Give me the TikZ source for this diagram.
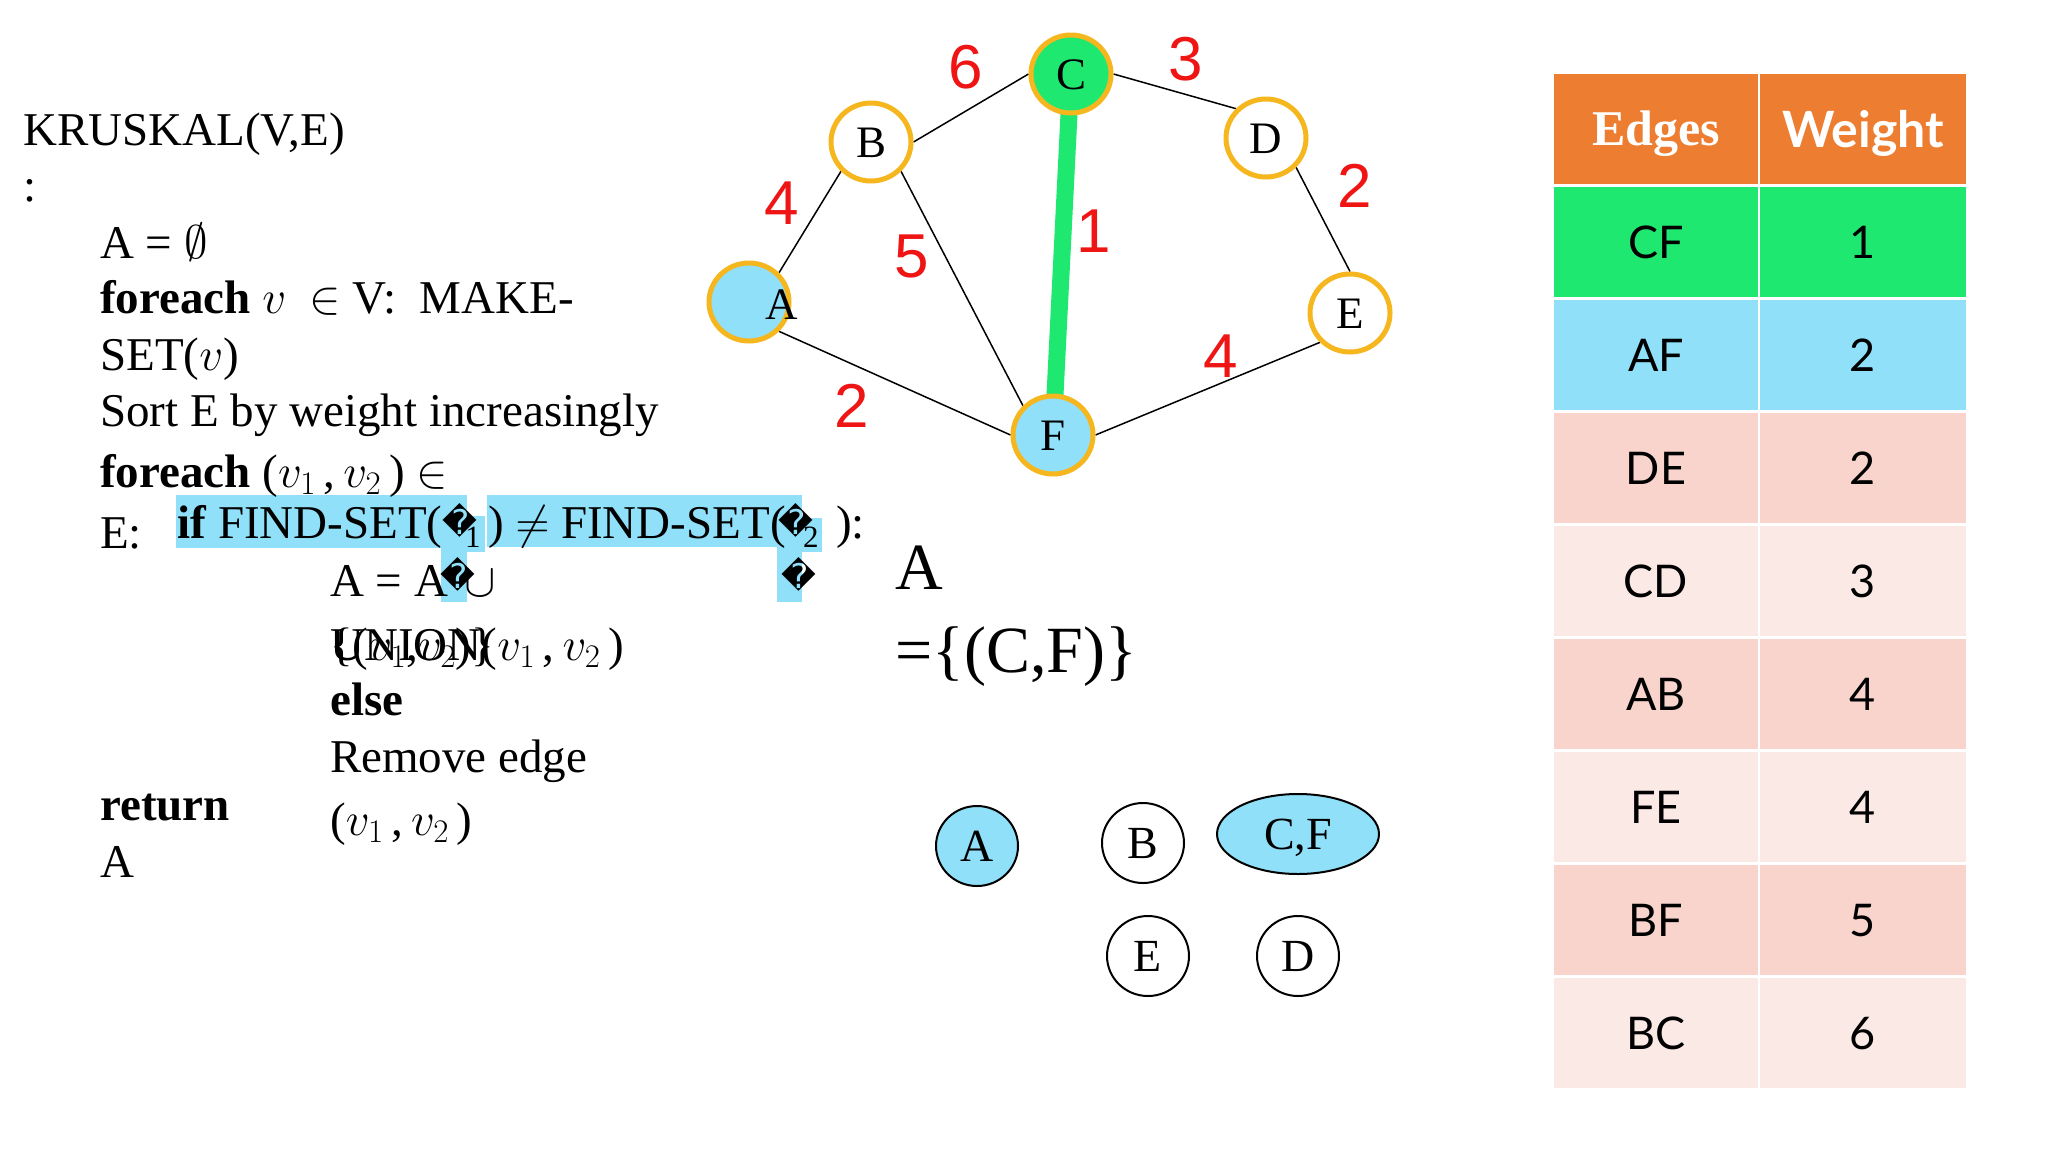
\RequirePackage{fix-cm}
\documentclass[tikz,border=0pt]{standalone}
\usepackage{fontspec}
\setmainfont{Liberation Serif}
\newfontfamily\arialf{Liberation Sans}
\newfontfamily\latof{Lato}
\newfontfamily\dejavuf{DejaVu Sans}
\usetikzlibrary{shapes.geometric}
\newcommand\setfs[1]{\fontsize{#1}{#1}\selectfont}
\definecolor{hlblue}{HTML}{90E0FA}
\definecolor{kgreen}{HTML}{1EE870}
\definecolor{kgold}{HTML}{F5B61E}
\definecolor{wred}{HTML}{F01515}
\definecolor{hdr}{HTML}{ED7D31}
\definecolor{pinkA}{HTML}{F8D4CD}
\definecolor{pinkB}{HTML}{FBE9E6}
\pgfdeclarelayer{bg}
\pgfdeclarelayer{paper}
\pgfsetlayers{paper,bg,main}
\tikzset{
  code/.style={anchor=base west, inner sep=0pt, font=\setfs{47}},
  repl/.style={inner sep=0pt, font=\dejavuf\setfs{34}},
  subs/.style={anchor=base west, inner sep=0pt, font=\setfs{31}},
  gnode/.style={ellipse, draw=kgold, line width=5pt, minimum width=80pt, minimum height=78pt, inner sep=0pt, font=\setfs{45}, text height=30pt, text depth=0pt},
  glabel/.style={inner sep=0pt, font=\setfs{45}, text height=30pt, text depth=0pt},
  edge/.style={line width=1.5pt, black},
  weight/.style={inner sep=0pt, text=wred, font=\arialf\setfs{62}, text height=44pt, text depth=0pt},
  snode/.style={ellipse, draw=black, line width=2pt, minimum width=82pt, minimum height=80pt, inner sep=0pt, font=\setfs{46}, text height=30.5pt, text depth=0pt},
  cell/.style={rectangle, inner sep=0pt, minimum height=110pt, text height=32.5pt, text depth=0pt, font=\latof\setfs{45}},
  colA/.style={cell, minimum width=204pt},
  colB/.style={cell, minimum width=206pt},
  hl/.style={fill=hlblue}
}
\begin{document}
\begin{tikzpicture}[x=1pt,y=-1pt]
\useasboundingbox (0,0) rectangle (2048,1152);
\begin{pgfonlayer}{paper}
\fill[white] (0,0) rectangle (2048,1152);
\end{pgfonlayer}

% ---------- highlights ----------
\fill[hl] (176,495) rectangle (467,548);
\fill[hl] (441,548) rectangle (467,602);
\fill[hl] (467,516) rectangle (485,552);
\fill[hl] (487,495) rectangle (802,547);
\fill[hl] (777,547) rectangle (802,602);
\fill[hl] (802,518) rectangle (822,552);

% ---------- pseudocode ----------
\node[code] (l1) at (23,145) {KRUSKAL(V,E)};
\node[code] (l2) at (23,201) {:};
\node[code] (l3) at (100,258) {A = $\emptyset$};
\node[code] (l4) at (100,313) {\textbf{foreach} $v$\ \ $\in$\ V:\ \ MAKE-};
\node[code] (l5) at (100,370) {SET($v$)};
\node[code] (l6) at (100,426) {Sort E by weight increasingly};
\node[code] (l7) at (100,487) {\textbf{foreach} ($v_1$\,,\,$v_2$\,)\ $\in$};
\node[code] (l8) at (100,548) {E:};
\node[code] (if1) at (177,538) {\textbf{if} FIND-SET(};
\node[repl] (r1) at (460,520) {\char"FFFD};
\node[subs] (s1) at (465,547) {1};
\node[code] (neq) at (488,538) {) $\neq$ FIND-SET(};
\node[repl] (r2) at (796,520) {\char"FFFD};
\node[subs] (s2) at (803,547) {2};
\node[code] (cl) at (836,538) {):};
\node[code] (aa) at (330,596) {A = A};
\node[code] (cup) at (464,596) {$\cup$};
\node[repl] (r3) at (458,574) {\char"FFFD};
\node[repl] (r4) at (799,574) {\char"FFFD};
\node[code] (un) at (330,660) {UNION($v_1$\,,\,$v_2$\,)};
\node[code] (br) at (330,660) {\{($v_1$,$v_2$)\}};
\node[code] (el) at (330,715) {\textbf{else}};
\node[code] (rm) at (330,772) {Remove edge};
\node[code] (rt) at (100,820) {\textbf{return}};
\node[code] (pv) at (330,835) {($v_1$\,,\,$v_2$\,)};
\node[code] (ra) at (100,877) {A};

% ---------- graph ----------
\node[gnode, fill=kgreen] (C) at (1071,74) {C};
\node[gnode, fill=white] (B) at (871,142) {B};
\node[gnode, fill=white] (D) at (1266,138) {D};
\node[gnode, fill=hlblue] (A) at (749,302) {};
\node[glabel] (Alab) at (782,304) {A};
\node[gnode, fill=white] (E) at (1350,313) {E};
\node[gnode, fill=hlblue] (F) at (1053,435) {F};
\begin{pgfonlayer}{bg}
\draw[edge] (A.north east) -- (B.south west);
\draw[edge] (B.east) -- (C.west);
\draw[edge] (C.east) -- (D.north west);
\draw[edge] (D.south east) -- (E.north);
\draw[edge] (E.south west) -- (F.east);
\draw[edge] (F.west) -- (A.south east);
\draw[edge] (B.south east) -- (F.north west);
\draw[line width=17pt, kgreen] (C.center) -- (F.center);
\end{pgfonlayer}
\node[weight] (w6) at (966,66) {6};
\node[weight] (w3) at (1186,58) {3};
\node[weight] (w4a) at (782,202) {4};
\node[weight] (w5) at (912,255) {5};
\node[weight] (w1) at (1094,230) {1};
\node[weight] (w2a) at (1355,185) {2};
\node[weight] (w4b) at (1221,355) {4};
\node[weight] (w2b) at (852,405) {2};

% ---------- result set ----------
\node[code, font=\setfs{66}] (As) at (895,589) {A};
\node[code, font=\setfs{66}] (Av) at (895,672) {=\{(C,F)\}};

% ---------- disjoint sets ----------
\node[snode, fill=hlblue] (sA) at (977,846) {A};
\node[snode, fill=white] (sB) at (1143,843) {B};
\node[snode, fill=hlblue, minimum width=162pt] (sCF) at (1298,834) {C,F};
\node[snode, fill=white] (sE) at (1148,956) {E};
\node[snode, fill=white] (sD) at (1298,956) {D};

% ---------- table ----------
\node[colA, fill=hdr, text=white, font=\setfs{50}\bfseries, text height=33pt] (h1) at (1656,129) {Edges};
\node[colB, fill=hdr, text=white, font=\latof\setfs{50}\bfseries, text height=36pt] (h2) at (1863,129) {Weight};
\node[colA, fill=kgreen] (e1) at (1656,242) {CF};
\node[colB, fill=kgreen] (v1) at (1863,242) {1};
\node[colA, fill=hlblue] (e2) at (1656,355) {AF};
\node[colB, fill=hlblue] (v2) at (1863,355) {2};
\node[colA, fill=pinkA] (e3) at (1656,468) {DE};
\node[colB, fill=pinkA] (v3) at (1863,468) {2};
\node[colA, fill=pinkB] (e4) at (1656,581) {CD};
\node[colB, fill=pinkB] (v4) at (1863,581) {3};
\node[colA, fill=pinkA] (e5) at (1656,694) {AB};
\node[colB, fill=pinkA] (v5) at (1863,694) {4};
\node[colA, fill=pinkB] (e6) at (1656,807) {FE};
\node[colB, fill=pinkB] (v6) at (1863,807) {4};
\node[colA, fill=pinkA] (e7) at (1656,920) {BF};
\node[colB, fill=pinkA] (v7) at (1863,920) {5};
\node[colA, fill=pinkB] (e8) at (1656,1033) {BC};
\node[colB, fill=pinkB] (v8) at (1863,1033) {6};
\end{tikzpicture}
\end{document}
